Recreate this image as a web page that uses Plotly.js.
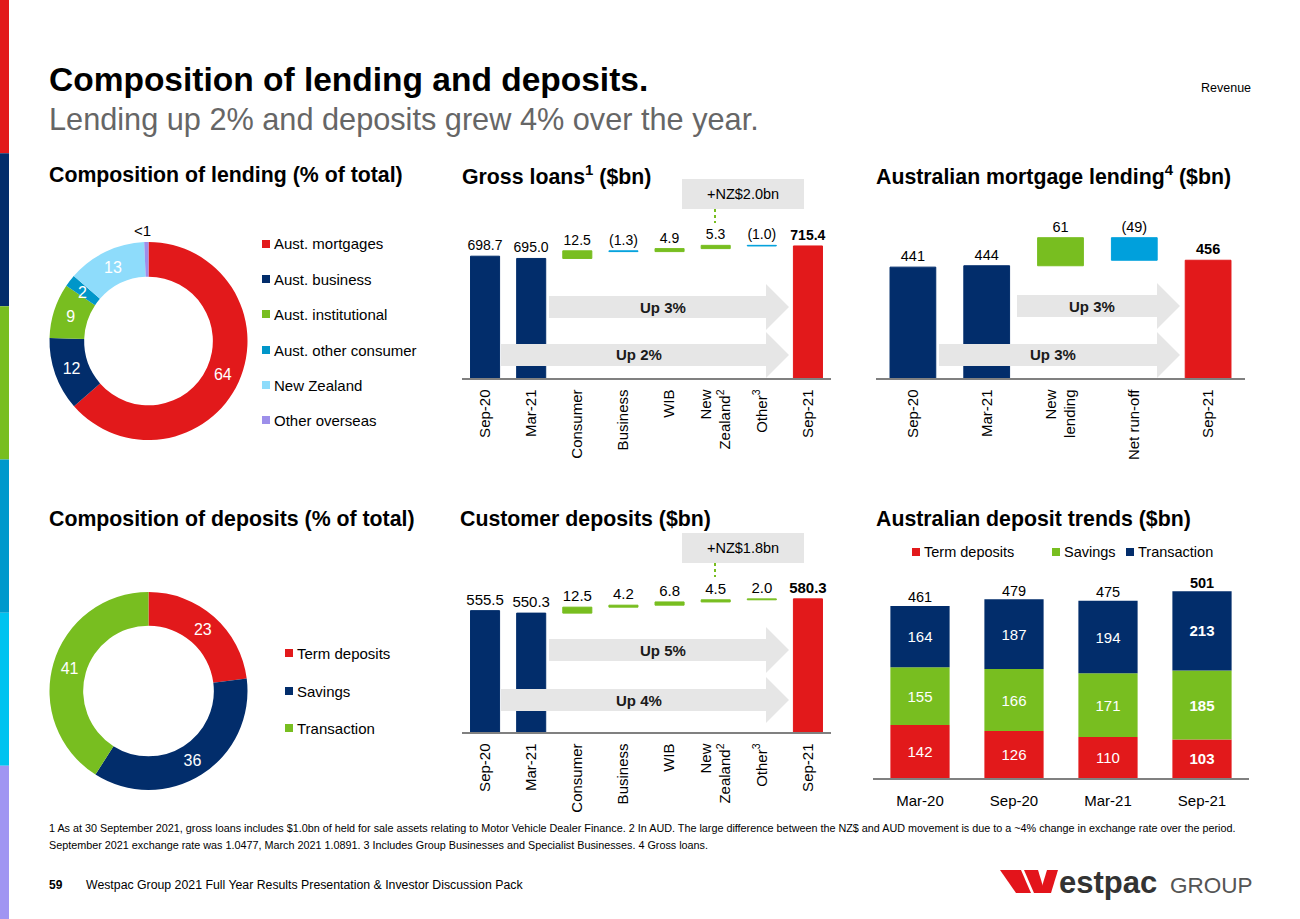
<!DOCTYPE html>
<html><head><meta charset="utf-8">
<script src="https://cdn.plot.ly/plotly-3.0.1.min.js"></script>
<style>html,body{margin:0;padding:0;background:#fff}#chart{width:1300px;height:919px}</style>
</head><body><div id="chart"></div>
<script>
// ---------------- DATA ----------------
const lendingLabels = ['Aust. mortgages','Aust. business','Aust. institutional','Aust. other consumer','New Zealand','Other overseas'];
const lendingShares = [64, 12, 9, 2, 13, 0.7];
const lendingText = ['64','12','9','2','13','<1'];

const depositMixLabels = ['Term deposits','Savings','Transaction'];
const depositMixShares = [23, 36, 41];
const depositMixText = ['23','36','41'];

const loanCats = ['Sep-20','Mar-21','Consumer','Business','WIB','New Zealand','Other','Sep-21'];
const loanTickText = ['Sep-20','Mar-21','Consumer','Business','WIB','New<br>Zealand<sup>2</sup>','Other<sup>3</sup>','Sep-21'];
const loanOpen = [698.7, 695.0];
const loanDeltas = [12.5, -1.3, 4.9, 5.3, -1.0];
const loanClose = 715.4;

const mortCats = ['Sep-20','Mar-21','New lending','Net run-off','Sep-21'];
const mortTickText = ['Sep-20','Mar-21','New<br>lending','Net run-off','Sep-21'];
const mortOpen = [441, 444];
const mortDeltas = [61, -49];
const mortClose = 456;

const depCats = ['Sep-20','Mar-21','Consumer','Business','WIB','New Zealand','Other','Sep-21'];
const depTickText = ['Sep-20','Mar-21','Consumer','Business','WIB','New<br>Zealand<sup>2</sup>','Other<sup>3</sup>','Sep-21'];
const depOpen = [555.5, 550.3];
const depDeltas = [12.5, 4.2, 6.8, 4.5, 2.0];
const depClose = 580.3;

const trendPeriods = ['Mar-20','Sep-20','Mar-21','Sep-21'];
const trendTerm = [142, 126, 110, 103];
const trendSavings = [155, 166, 171, 185];
const trendTransaction = [164, 187, 194, 213];
const trendSeriesNames = ['Term deposits','Savings','Transaction'];

// ---------------- STYLE ----------------
const RED = '#E2191B', NAVY = '#022D6B', GREEN = '#78BE20', TEAL = '#0096C9',
      BLUE = '#00A0DC', LIGHTBLUE = '#8EDCFB', PURPLE = '#9D8FEA', CYAN = '#00C3F0';
const GREY_ARROW = '#E6E6E6';
const FONT = 'Arial, "Liberation Sans", sans-serif';
const W = 1300, H = 919;
const X = x => x / W;
const Y = y => 1 - y / H;

function waterfall(open, deltas, close, dec, upColor, downColor) {
  const y = [], base = [], color = [], text = [];
  open.forEach(v => { y.push(v); base.push(0); color.push(NAVY); text.push(v.toFixed(dec)); });
  let cum = open[open.length - 1];
  deltas.forEach(d => {
    y.push(Math.abs(d)); base.push(Math.min(cum, cum + d));
    color.push(d >= 0 ? upColor : downColor);
    text.push(d < 0 ? '(' + Math.abs(d).toFixed(dec) + ')' : d.toFixed(dec));
    cum += d;
  });
  y.push(close); base.push(0); color.push(RED); text.push('<b>' + close.toFixed(dec) + '</b>');
  return {y, base, color, text};
}

const loanW = waterfall(loanOpen, loanDeltas, loanClose, 1, GREEN, BLUE);
const mortW = waterfall(mortOpen, mortDeltas, mortClose, 0, GREEN, BLUE);
const depW = waterfall(depOpen, depDeltas, depClose, 1, GREEN, BLUE);

function wfTrace(wf, cats, xa, ya, fs, width) {
  return {type: 'bar', x: cats, y: wf.y, base: wf.base, xaxis: xa, yaxis: ya, width: width,
    marker: {color: wf.color, line: {color: wf.color, width: 1}},
    text: wf.text, textposition: 'outside', constraintext: 'none', cliponaxis: true,
    textfont: {family: FONT, size: fs, color: '#000'}, hoverinfo: 'skip', showlegend: false};
}

const traces = [];
traces.push(wfTrace(loanW, loanCats, 'x', 'y', 14, 0.63));
traces.push(wfTrace(mortW, mortCats, 'x2', 'y2', 14.5, 0.62));
traces.push(wfTrace(depW, depCats, 'x3', 'y3', 15, 0.63));

// stacked deposit trends
const trendSeries = [trendTerm, trendSavings, trendTransaction];
const trendColors = [RED, GREEN, NAVY];
const last = trendPeriods.length - 1;
let runBase = trendPeriods.map(() => 0);
trendSeries.forEach((s, k) => {
  traces.push({type: 'bar', x: trendPeriods, y: s, base: runBase.slice(), xaxis: 'x4', yaxis: 'y4', width: 0.63,
    marker: {color: trendColors[k]}, name: trendSeriesNames[k],
    text: s.map((v, i) => i === last ? '<b>' + v + '</b>' : String(v)),
    textposition: 'inside', insidetextanchor: 'middle', constraintext: 'none',
    textfont: {family: FONT, size: 15, color: '#fff'}, hoverinfo: 'skip', showlegend: false});
  runBase = runBase.map((b, i) => b + s[i]);
});
const trendTotals = runBase;
traces.push({type: 'scatter', mode: 'text', x: trendPeriods, y: trendTotals, xaxis: 'x4', yaxis: 'y4',
  text: trendTotals.map((v, i) => i === last ? '<b>' + v + '</b>' : String(v)),
  textposition: 'top center', cliponaxis: false,
  textfont: {family: FONT, size: 14.5, color: '#000'}, hoverinfo: 'skip', showlegend: false});

// donuts
const lendColors = [RED, NAVY, GREEN, TEAL, LIGHTBLUE, PURPLE];
traces.push({type: 'pie', values: lendingShares, labels: lendingLabels, sort: false, direction: 'clockwise', rotation: 0,
  hole: 0.65, domain: {x: [X(49.5), X(247.5)], y: [Y(440), Y(242)]},
  marker: {colors: lendColors, line: {width: 0}},
  text: lendingText, textinfo: 'text',
  textposition: lendingShares.map(v => v < 5 ? 'none' : 'inside'),
  insidetextorientation: 'horizontal', textfont: {family: FONT, size: 16, color: '#fff'},
  hoverinfo: 'skip', showlegend: false});
const depMixColors = [RED, NAVY, GREEN];
traces.push({type: 'pie', values: depositMixShares, labels: depositMixLabels, sort: false, direction: 'clockwise', rotation: 0,
  hole: 0.66, domain: {x: [X(49.5), X(247.5)], y: [Y(790), Y(592)]},
  marker: {colors: depMixColors, line: {width: 0}},
  text: depositMixText, textinfo: 'text', textposition: 'inside',
  insidetextorientation: 'horizontal', textfont: {family: FONT, size: 16, color: '#fff'},
  hoverinfo: 'skip', showlegend: false});

// ---------------- AXES ----------------
function catAxis(x0, x1, anchor, cats, ticktext, angle, fs, standoff) {
  return {domain: [X(x0), X(x1)], anchor: anchor, type: 'category', categoryarray: cats, tickvals: cats, ticktext: ticktext,
    tickangle: angle, tickfont: {family: FONT, size: fs, color: '#000'}, showline: true, linecolor: '#808080', linewidth: 1.5,
    showgrid: false, zeroline: false, ticks: '', ticklabelstandoff: standoff, range: [-0.5, cats.length - 0.5], fixedrange: true};
}
function valAxis(yBottom, yTop, min, pxPerUnit, anchor) {
  return {domain: [Y(yBottom), Y(yTop)], anchor: anchor, range: [min, min + (yBottom - yTop) / pxPerUnit],
    visible: false, showgrid: false, zeroline: false, fixedrange: true};
}

// ---------------- SHAPES & ANNOTATIONS ----------------
const shapes = [];
const annotations = [];
function txt(x, y, text, size, opts) {
  annotations.push(Object.assign({xref: 'paper', yref: 'paper', x: X(x), y: Y(y), text: text, showarrow: false,
    xanchor: 'left', yanchor: 'middle', font: {family: FONT, size: size, color: '#000'}}, opts || {}));
}
function rectPx(x0, y0, x1, y1, color, layer) {
  shapes.push({type: 'rect', xref: 'paper', yref: 'paper', x0: X(x0), x1: X(x1), y0: Y(y1), y1: Y(y0),
    fillcolor: color, line: {width: 0}, layer: layer || 'above'});
}
function arrowPx(x0, xt, yc, label, labelX) {
  const bh = 11, hh = 23, hl = 23;
  const pts = [[x0, yc - bh], [xt - hl, yc - bh], [xt - hl, yc - hh], [xt, yc], [xt - hl, yc + hh], [xt - hl, yc + bh], [x0, yc + bh]];
  const path = 'M' + pts.map(p => X(p[0]).toFixed(5) + ',' + Y(p[1]).toFixed(5)).join(' L') + ' Z';
  shapes.push({type: 'path', xref: 'paper', yref: 'paper', path: path, fillcolor: GREY_ARROW, line: {width: 0}, layer: 'above'});
  txt(labelX, yc, '<b>' + label + '</b>', 15, {xanchor: 'center', font: {family: FONT, size: 15, color: '#1a1a1a'}});
}
function nzBox(yTop, label) {
  rectPx(682, yTop, 804, yTop + 30, GREY_ARROW, 'below');
  txt(743, yTop + 15, label, 14.5, {xanchor: 'center'});
  shapes.push({type: 'line', xref: 'paper', yref: 'paper', x0: X(715), x1: X(715), y0: Y(yTop + 30), y1: Y(yTop + 44),
    line: {color: GREEN, width: 2, dash: 'dot'}});
}
function legendPx(items, colors, xs, ys, size) {
  items.forEach((t, i) => {
    rectPx(xs[i] - 4, ys[i] - 4, xs[i] + 4, ys[i] + 4, colors[i]);
    txt(xs[i] + 6, ys[i], t, size);
  });
}

// left colour bar
const sideColors = [RED, NAVY, GREEN, '#0099CC', CYAN, '#A095F2'];
sideColors.forEach((c, i) => rectPx(0, i * H / 6, 9, (i + 1) * H / 6, c));

// titles
txt(47, 80, '<b>Composition of lending and deposits.</b>', 33.5);
txt(47, 120, 'Lending up 2% and deposits grew 4% over the year.', 30.7, {font: {family: FONT, size: 30.7, color: '#666666'}});
txt(1253, 88, 'Revenue', 12.5, {xanchor: 'right'});

txt(47, 175, '<b>Composition of lending (% of total)</b>', 21.3);
txt(460, 175, '<b>Gross loans<sup>1</sup> ($bn)</b>', 21.3);
txt(874, 175, '<b>Australian mortgage lending<sup>4</sup> ($bn)</b>', 21.3);
txt(47, 519, '<b>Composition of deposits (% of total)</b>', 21.3);
txt(458, 519, '<b>Customer deposits ($bn)</b>', 21.3);
txt(874, 519, '<b>Australian deposit trends ($bn)</b>', 21.3);

// legends
legendPx(lendingLabels, lendColors, [266, 266, 266, 266, 266, 266], [244, 279, 314, 350, 385, 420], 15);
legendPx(depositMixLabels, depMixColors, [289, 289, 289], [653, 691, 728], 15);
legendPx(trendSeriesNames, trendColors, [916, 1056, 1130], [552, 552, 552], 14.5);

// small slice labels of lending donut
txt(82, 293, lendingText[3], 16, {xanchor: 'center', font: {family: FONT, size: 16, color: '#fff'}});
txt(142, 231, lendingText[5], 15, {xanchor: 'center'});

// arrows
arrowPx(549, 789, 307, 'Up 3%', 663);
arrowPx(501, 789, 355, 'Up 2%', 639);
arrowPx(1017, 1180, 306, 'Up 3%', 1092);
arrowPx(939, 1180, 355, 'Up 3%', 1053);
arrowPx(549, 789, 650, 'Up 5%', 663);
arrowPx(501, 789, 700, 'Up 4%', 639);

nzBox(179, '+NZ$2.0bn');
nzBox(533, '+NZ$1.8bn');

// footer
txt(47, 828, '1 As at 30 September 2021, gross loans includes $1.0bn of held for sale assets relating to Motor Vehicle Dealer Finance. 2 In AUD. The large difference between the NZ$ and AUD movement is due to a ~4% change in exchange rate over the period.', 10.8);
txt(47, 845, 'September 2021 exchange rate was 1.0477, March 2021 1.0891. 3 Includes Group Businesses and Specialist Businesses. 4 Gross loans.', 10.8);
txt(47, 885, '<b>59</b>', 12);
txt(84, 885, 'Westpac Group 2021 Full Year Results Presentation & Investor Discussion Pack', 12.3);

// logo
function polyPx(pts, color) {
  const path = 'M' + pts.map(p => X(p[0]).toFixed(5) + ',' + Y(p[1]).toFixed(5)).join(' L') + ' Z';
  shapes.push({type: 'path', xref: 'paper', yref: 'paper', path: path, fillcolor: color, line: {width: 0}});
}
polyPx([[1000, 870], [1021, 870], [1031, 893], [1016, 893]], '#E3141B');
polyPx([[1024, 870], [1038, 870], [1045, 893], [1034, 893]], '#E3141B');
polyPx([[1040, 893], [1051, 893], [1058, 870], [1047, 870]], '#E3141B');
txt(1057, 882, '<b>estpac</b>', 31, {font: {family: FONT, size: 31, color: '#333333'}});
txt(1168, 885, 'GROUP', 22.5, {font: {family: FONT, size: 22.5, color: '#555555'}});

const layout = {
  width: W, height: H, margin: {l: 0, r: 0, t: 0, b: 0}, paper_bgcolor: '#fff', plot_bgcolor: 'rgba(0,0,0,0)',
  barmode: 'overlay', showlegend: false, font: {family: FONT},
  xaxis: catAxis(462, 831, 'y', loanCats, loanTickText, -90, 15, 4),
  yaxis: valAxis(378, 205, 500, 0.613, 'x'),
  xaxis2: catAxis(876, 1245, 'y2', mortCats, mortTickText, -90, 15, 4),
  yaxis2: valAxis(378, 200, 200, 0.46, 'x2'),
  xaxis3: catAxis(462, 831, 'y3', depCats, depTickText, -90, 15, 4),
  yaxis3: valAxis(732, 565, 300, 0.475, 'x3'),
  xaxis4: catAxis(873, 1249, 'y4', trendPeriods, trendPeriods, 0, 15, 8),
  yaxis4: valAxis(778, 565, 0, 0.373, 'x4'),
  shapes: shapes, annotations: annotations
};
Plotly.newPlot('chart', traces, layout, {displayModeBar: false, staticPlot: true});
</script></body></html>
